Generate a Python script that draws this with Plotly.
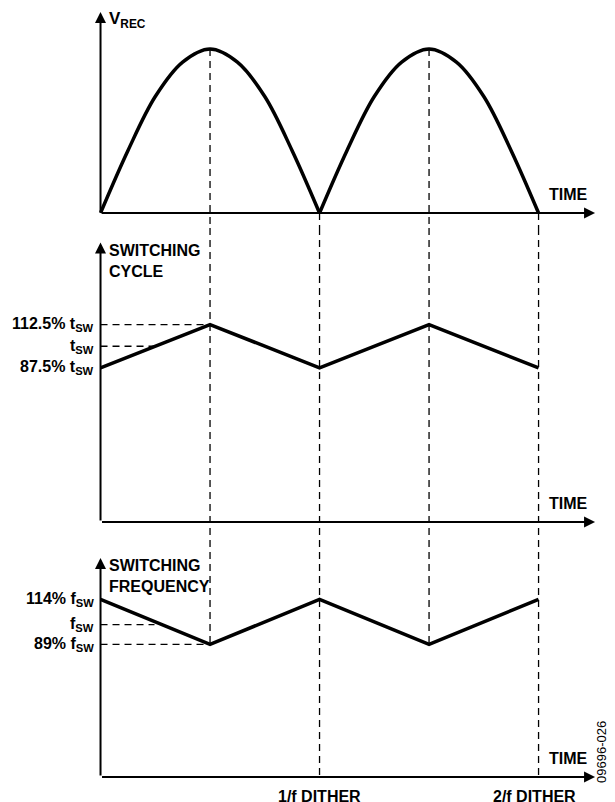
import plotly.graph_objects as go

# ---------------- data ----------------
# time in units of 1/f DITHER
t_hump = [0, 0.125, 0.25, 0.375, 0.5, 0.625, 0.75, 0.875, 1.0]
v_rec = [0, 0.38, 0.71, 0.92, 1.0, 0.92, 0.71, 0.38, 0]          # rectified input (normalised)
t_dither = [0, 0.5, 1.0, 1.5, 2.0]
cycle_pct = [87.5, 112.5, 87.5, 112.5, 87.5]                      # switching cycle, % of tSW
freq_pct = [114, 89, 114, 89, 114]                                # switching frequency, % of fSW
cycle_ticks = [112.5, 100, 87.5]
cycle_labels = ["112.5% t<sub>SW</sub>", "t<sub>SW</sub>", "87.5% t<sub>SW</sub>"]
freq_ticks = [114, 100, 89]
freq_labels = ["114% f<sub>SW</sub>", "f<sub>SW</sub>", "89% f<sub>SW</sub>"]
x_marks = [1.0, 2.0]
x_mark_labels = ["1/f DITHER", "2/f DITHER"]

# ---------------- layout constants ----------------
# the page body adds an 8px margin, so the figure is 8px smaller than the window
W, H = 607, 794
FONT = "Liberation Sans, Arial, sans-serif"
FS = 16
X_RANGE = [-0.4224, 2.349]
Y1_RANGE = [-0.0915, 1.25]
Y2_RANGE = [-11.6, 168.1]
Y3_RANGE = [1.4, 147.0]
DOM1 = [1 - 220 / H, 1]
DOM2 = [1 - 532 / H, 1 - 220 / H]
DOM3 = [0, 1 - 532 / H]
BASE = {"y": 0, "y2": -1.2, "y3": 15.3}          # where each time axis sits
TOP = {"y": 1.226, "y2": 159.7, "y3": 137.0}     # vertical arrow tips
X_ARROW_END = 2.258
TIME_X = 2.137
DASH = "7px,5px"

fig = go.Figure()

# rectified sine, two humps
for k in range(2):
    fig.add_trace(go.Scatter(x=[t + k for t in t_hump], y=v_rec, mode="lines",
                             line=dict(color="black", width=3.5, shape="spline"),
                             xaxis="x", yaxis="y", hoverinfo="skip"))
fig.add_trace(go.Scatter(x=t_dither, y=cycle_pct, mode="lines",
                         line=dict(color="black", width=3.5),
                         xaxis="x", yaxis="y2", hoverinfo="skip"))
fig.add_trace(go.Scatter(x=t_dither, y=freq_pct, mode="lines",
                         line=dict(color="black", width=3.5),
                         xaxis="x", yaxis="y3", hoverinfo="skip"))

shapes = []
dl = dict(color="black", width=1.3, dash=DASH)
peak_t = [t for t, v in zip(t_dither, cycle_pct) if v == max(cycle_pct)]
zero_t = [t for t, v in zip(t_dither, cycle_pct) if v == min(cycle_pct) and t > 0]
# vertical dashed lines at V_REC peaks: from peak down to 89% f_SW
for t in peak_t:
    shapes.append(dict(type="line", xref="x", yref="y", x0=t, x1=t, y0=max(v_rec), y1=Y1_RANGE[0], line=dl))
    shapes.append(dict(type="line", xref="x", yref="y2", x0=t, x1=t, y0=Y2_RANGE[1], y1=Y2_RANGE[0], line=dl))
    shapes.append(dict(type="line", xref="x", yref="y3", x0=t, x1=t, y0=Y3_RANGE[1], y1=min(freq_pct), line=dl))
# vertical dashed lines at V_REC zeros: from zero down to bottom time axis
for t in zero_t:
    shapes.append(dict(type="line", xref="x", yref="y", x0=t, x1=t, y0=0, y1=Y1_RANGE[0], line=dl))
    shapes.append(dict(type="line", xref="x", yref="y2", x0=t, x1=t, y0=Y2_RANGE[1], y1=Y2_RANGE[0], line=dl))
    shapes.append(dict(type="line", xref="x", yref="y3", x0=t, x1=t, y0=Y3_RANGE[1], y1=BASE["y3"], line=dl))

# horizontal dashed reference lines
def cross_t(ts, vs, level):
    t0, t1, v0, v1 = ts[0], ts[1], vs[0], vs[1]
    return t0 + (level - v0) / (v1 - v0) * (t1 - t0)

shapes.append(dict(type="line", xref="x", yref="y2", x0=0, x1=0.5, y0=cycle_ticks[0], y1=cycle_ticks[0], line=dl))
shapes.append(dict(type="line", xref="x", yref="y2", x0=0, x1=cross_t(t_dither, cycle_pct, cycle_ticks[1]),
                   y0=cycle_ticks[1], y1=cycle_ticks[1], line=dl))
shapes.append(dict(type="line", xref="x", yref="y3", x0=0, x1=0.5, y0=freq_ticks[2], y1=freq_ticks[2], line=dl))
shapes.append(dict(type="line", xref="x", yref="y3", x0=0, x1=cross_t(t_dither, freq_pct, freq_ticks[1]) * 0.88,
                   y0=freq_ticks[1], y1=freq_ticks[1], line=dl))

ann = []
# axes with arrows
for yr in ["y", "y2", "y3"]:
    ann.append(dict(x=0, y=TOP[yr], ax=0, ay=BASE[yr], xref="x", yref=yr, axref="x", ayref=yr,
                    showarrow=True, arrowhead=2, arrowsize=1.1, arrowwidth=2, arrowcolor="black", text=""))
    ann.append(dict(x=X_ARROW_END, y=BASE[yr], ax=0, ay=BASE[yr], xref="x", yref=yr, axref="x", ayref=yr,
                    showarrow=True, arrowhead=2, arrowsize=1.1, arrowwidth=2, arrowcolor="black", text=""))
    ann.append(dict(x=TIME_X, y=BASE[yr], xref="x", yref=yr, text="<b>TIME</b>", showarrow=False,
                    xanchor="center", yanchor="bottom", yshift=8, font=dict(size=FS)))

ann.append(dict(x=0, y=TOP["y"], xref="x", yref="y", text="<b>V<sub>REC</sub></b>", showarrow=False,
                xanchor="left", yanchor="top", xshift=6, yshift=5, font=dict(size=FS + 1)))
ann.append(dict(x=0, y=TOP["y2"], xref="x", yref="y2", text="<b>SWITCHING<br>CYCLE</b>", showarrow=False,
                xanchor="left", yanchor="top", xshift=6, yshift=3, align="left", font=dict(size=FS)))
ann.append(dict(x=0, y=TOP["y3"], xref="x", yref="y3", text="<b>SWITCHING<br>FREQUENCY</b>", showarrow=False,
                xanchor="left", yanchor="top", xshift=6, yshift=3, align="left", font=dict(size=FS)))

for v, lab in zip(cycle_ticks, cycle_labels):
    ann.append(dict(x=0, y=v, xref="x", yref="y2", text="<b>" + lab + "</b>", showarrow=False,
                    xanchor="right", yanchor="middle", xshift=-5, font=dict(size=FS)))
for v, lab in zip(freq_ticks, freq_labels):
    ann.append(dict(x=0, y=v, xref="x", yref="y3", text="<b>" + lab + "</b>", showarrow=False,
                    xanchor="right", yanchor="middle", xshift=-5, font=dict(size=FS)))
for t, lab in zip(x_marks, x_mark_labels):
    ann.append(dict(x=t, y=BASE["y3"], xref="x", yref="y3", text="<b>" + lab + "</b>", showarrow=False,
                    xanchor="center", yanchor="top", yshift=-9, xshift=(-4 if t == 2.0 else 0),
                    font=dict(size=FS)))
ann.append(dict(x=593 / W, y=1 - 744 / H, xref="paper", yref="paper", text="09696-026", showarrow=False,
                textangle=-90, xanchor="center", yanchor="middle", font=dict(size=13)))

hidden = dict(visible=False, fixedrange=True)
fig.update_layout(
    width=W, height=H, margin=dict(l=0, r=0, t=0, b=0),
    paper_bgcolor="white", plot_bgcolor="white", showlegend=False,
    font=dict(family=FONT, color="black"),
    xaxis=dict(range=X_RANGE, domain=[0, 1], **hidden),
    yaxis=dict(range=Y1_RANGE, domain=DOM1, **hidden),
    yaxis2=dict(range=Y2_RANGE, domain=DOM2, anchor="x", **hidden),
    yaxis3=dict(range=Y3_RANGE, domain=DOM3, anchor="x", **hidden),
    shapes=shapes, annotations=ann,
)
fig.write_html("out.html")
